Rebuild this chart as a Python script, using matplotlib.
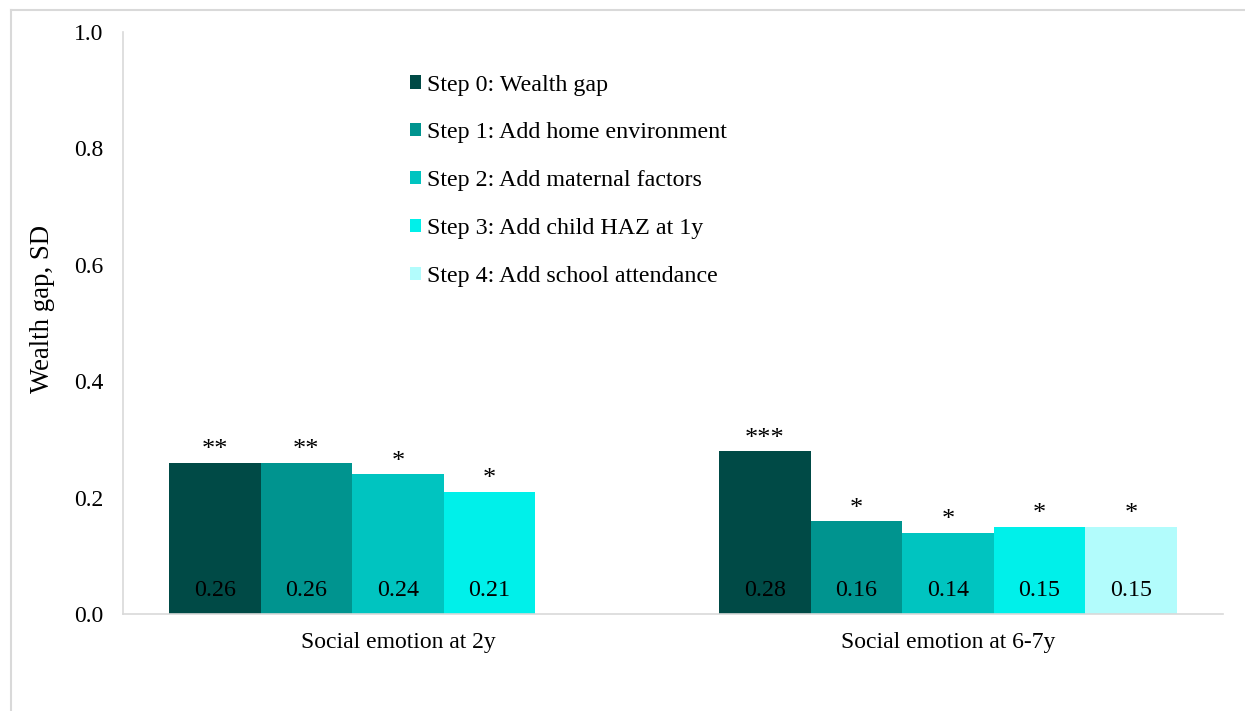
import numpy as np
import matplotlib.pyplot as plt
from matplotlib.patches import Patch
from matplotlib.lines import Line2D

plt.rcParams['font.family'] = ['Liberation Serif', 'DejaVu Serif']

# Datos del gráfico
categorias = ['Social emotion at 2y', 'Social emotion at 6-7y']
pasos = ['Step 0: Wealth gap',
         'Step 1: Add home environment',
         'Step 2: Add maternal factors',
         'Step 3: Add child HAZ at 1y',
         'Step 4: Add school attendance']
valores = [
    [0.26, 0.28],
    [0.26, 0.16],
    [0.24, 0.14],
    [0.21, 0.15],
    [None, 0.15],
]
estrellas = [
    ['**', '***'],
    ['**', '*'],
    ['*', '*'],
    ['*', '*'],
    [None, '*'],
]
colores = ['#004a46', '#00948f', '#00c4c0', '#00f0ea', '#b2fcfc']

fig = plt.figure(figsize=(12.45, 7.11), dpi=100)
ax = fig.add_axes([0.0988, 0.1364, 0.8835, 0.8186])

ancho = 0.1665
x = np.arange(len(categorias))
for i, serie in enumerate(valores):
    for j, v in enumerate(serie):
        if v is None:
            continue
        xi = x[j] + (i - 2) * ancho
        ax.bar(xi, v, width=ancho, color=colores[i], edgecolor='none')
        # valor dentro de la barra, cerca de la base
        ax.text(xi, 0.041, f'{v:.2f}', ha='center', va='center', fontsize=17.3)
        # nivel de significancia sobre la barra
        ax.annotate(estrellas[i][j], (xi, v), xytext=(0, 1),
                    textcoords='offset points', ha='center', va='bottom',
                    fontsize=19)

ax.set_xlim(-0.5, 1.5)
ax.set_ylim(0, 1.0)
ax.set_yticks(np.arange(0, 1.01, 0.2))
ax.set_yticklabels([f'{t:.1f}' for t in np.arange(0, 1.01, 0.2)], fontsize=17)
ax.set_xticks(x)
ax.set_xticklabels(categorias, fontsize=17)
ax.tick_params(length=0)
ax.tick_params(axis='x', pad=13)
ax.tick_params(axis='y', pad=14)
ax.set_ylabel('Wealth gap, SD', fontsize=19.3)
ax.yaxis.set_label_coords(-0.062, 0.524)

for s in ['top', 'right']:
    ax.spines[s].set_visible(False)
for s in ['left', 'bottom']:
    ax.spines[s].set_color('#d9d9d9')
    ax.spines[s].set_linewidth(1.2)

handles = [Patch(facecolor=c, edgecolor='none') for c in colores]
ax.legend(handles, pasos, loc='upper left', bbox_to_anchor=(0.241, 0.964),
          frameon=False, fontsize=17.3, handlelength=0.46, handleheight=0.46,
          handletextpad=0.25, labelspacing=1.12)

# marco exterior
fig.add_artist(Line2D([0.0085, 0.0085], [0, 0.986], color='#d9d9d9', lw=1.5))
fig.add_artist(Line2D([0.0085, 1.0], [0.986, 0.986], color='#d9d9d9', lw=1.5))

fig.savefig('out.png', dpi=100)
